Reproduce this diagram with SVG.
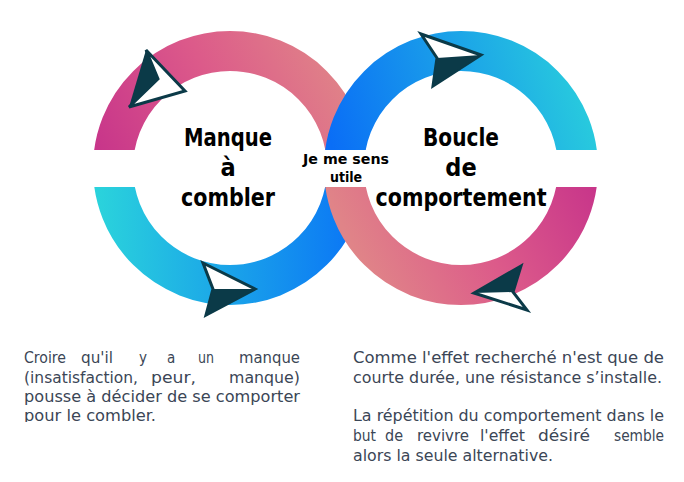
<svg xmlns="http://www.w3.org/2000/svg" width="684" height="482" viewBox="0 0 684 482">
<defs>
<linearGradient id="gLT" x1="100" y1="150" x2="330" y2="40" gradientUnits="userSpaceOnUse"><stop offset="0" stop-color="#c8368a"/><stop offset="0.5" stop-color="#dc5a8a"/><stop offset="1" stop-color="#e08488"/></linearGradient>
<linearGradient id="gLB" x1="100" y1="200" x2="360" y2="200" gradientUnits="userSpaceOnUse"><stop offset="0" stop-color="#2ad2dc"/><stop offset="1" stop-color="#0a74f6"/></linearGradient>
<linearGradient id="gRT" x1="330" y1="140" x2="590" y2="60" gradientUnits="userSpaceOnUse"><stop offset="0" stop-color="#0a6ef6"/><stop offset="1" stop-color="#2ad0dc"/></linearGradient>
<linearGradient id="gRB" x1="380" y1="300" x2="595" y2="190" gradientUnits="userSpaceOnUse"><stop offset="0" stop-color="#e08488"/><stop offset="0.5" stop-color="#dc5a8a"/><stop offset="1" stop-color="#c8368a"/></linearGradient>
<clipPath id="top"><rect x="0" y="0" width="684" height="150"/></clipPath>
<clipPath id="bot"><rect x="0" y="187" width="684" height="200"/></clipPath>
<clipPath id="txt"><rect x="0" y="330" width="340" height="92"/></clipPath>
</defs>
<style>
.ring{fill:none;stroke-width:40}
.lab{font-family:"DejaVu Sans Condensed","DejaVu Sans",sans-serif;font-weight:bold;font-size:25px;text-anchor:middle;fill:#000}
.mid{font-family:"DejaVu Sans Condensed","DejaVu Sans",sans-serif;font-weight:bold;font-size:14px;text-anchor:middle;fill:#000}
.p{font-family:"DejaVu Sans Condensed","DejaVu Sans",sans-serif;font-size:15px;fill:#3b4656}
.arr{fill:#fff;stroke:#0b3a48;stroke-width:3;stroke-linejoin:miter}
.arrf{fill:#0b3a48}
</style>
<rect width="684" height="482" fill="#fff"/>
<g id="left-ring">
<circle class="ring" cx="230" cy="168" r="117" stroke="url(#gLT)" clip-path="url(#top)"/>
<circle class="ring" cx="230" cy="168" r="117" stroke="url(#gLB)" clip-path="url(#bot)"/>
</g>
<g id="right-ring">
<circle class="ring" cx="461" cy="168" r="117" stroke="url(#gRT)" clip-path="url(#top)"/>
<circle class="ring" cx="461" cy="168" r="117" stroke="url(#gRB)" clip-path="url(#bot)"/>
</g>
<g id="connectors">
<polygon class="arr" points="146,50 185,91 129,107 158,79"/>
<polygon class="arrf" points="146,50 158,79 129,107"/>
<polygon class="arr" points="203,263 255,289 206,315 213,289"/>
<polygon class="arrf" points="255,289 213,289 206,315"/>
<polygon class="arr" points="421,34 481,55 433,86 437,58"/>
<polygon class="arrf" points="481,55 437,58 433,86"/>
<polygon class="arr" points="521,266 474,293 527,310 513,292"/>
<polygon class="arrf" points="521,266 513,292 474,293"/>
</g>
<g id="node-manque">
<text class="lab" x="228" y="146" textLength="88" lengthAdjust="spacingAndGlyphs">Manque</text>
<text class="lab" x="228" y="176">à</text>
<text class="lab" x="228" y="206" textLength="94" lengthAdjust="spacingAndGlyphs">combler</text>
</g>
<g id="node-boucle">
<text class="lab" x="461" y="146" textLength="76" lengthAdjust="spacingAndGlyphs">Boucle</text>
<text class="lab" x="461" y="176">de</text>
<text class="lab" x="461" y="206" textLength="171" lengthAdjust="spacingAndGlyphs">comportement</text>
</g>
<g id="node-utile">
<text class="mid" x="346" y="164" textLength="86" lengthAdjust="spacingAndGlyphs">Je me sens</text>
<text class="mid" x="346" y="182">utile</text>
</g>
<g id="text-left" clip-path="url(#txt)">
<text class="p" x="24" y="363" textLength="42" lengthAdjust="spacingAndGlyphs">Croire</text>
<text class="p" x="81" y="363" textLength="32" lengthAdjust="spacingAndGlyphs">qu'il</text>
<text class="p" x="139" y="363">y</text>
<text class="p" x="167" y="363">a</text>
<text class="p" x="198" y="363" textLength="16" lengthAdjust="spacingAndGlyphs">un</text>
<text class="p" x="239" y="363" textLength="61" lengthAdjust="spacingAndGlyphs">manque</text>
<text class="p" x="24" y="383" textLength="114" lengthAdjust="spacingAndGlyphs">(insatisfaction,</text>
<text class="p" x="151" y="383" textLength="45" lengthAdjust="spacingAndGlyphs">peur,</text>
<text class="p" x="229" y="383" textLength="71" lengthAdjust="spacingAndGlyphs">manque)</text>
<text class="p" x="24" y="402" textLength="276" lengthAdjust="spacingAndGlyphs">pousse à décider de se comporter</text>
<text class="p" x="24" y="421" textLength="132" lengthAdjust="spacingAndGlyphs">pour le combler.</text>
</g>
<g id="text-right">
<text class="p" x="353" y="363" textLength="311" lengthAdjust="spacingAndGlyphs">Comme l'effet recherché n'est que de</text>
<text class="p" x="353" y="383" textLength="309" lengthAdjust="spacingAndGlyphs">courte durée, une résistance s’installe.</text>
<text class="p" x="353" y="421" textLength="311" lengthAdjust="spacingAndGlyphs">La répétition du comportement dans le</text>
<text class="p" x="353" y="441" textLength="23" lengthAdjust="spacingAndGlyphs">but</text>
<text class="p" x="385" y="441" textLength="18" lengthAdjust="spacingAndGlyphs">de</text>
<text class="p" x="417" y="441" textLength="52" lengthAdjust="spacingAndGlyphs">revivre</text>
<text class="p" x="480" y="441" textLength="45" lengthAdjust="spacingAndGlyphs">l'effet</text>
<text class="p" x="538" y="441" textLength="52" lengthAdjust="spacingAndGlyphs">désiré</text>
<text class="p" x="614" y="441" textLength="50" lengthAdjust="spacingAndGlyphs">semble</text>
<text class="p" x="353" y="461" textLength="200" lengthAdjust="spacingAndGlyphs">alors la seule alternative.</text>
</g>
</svg>
